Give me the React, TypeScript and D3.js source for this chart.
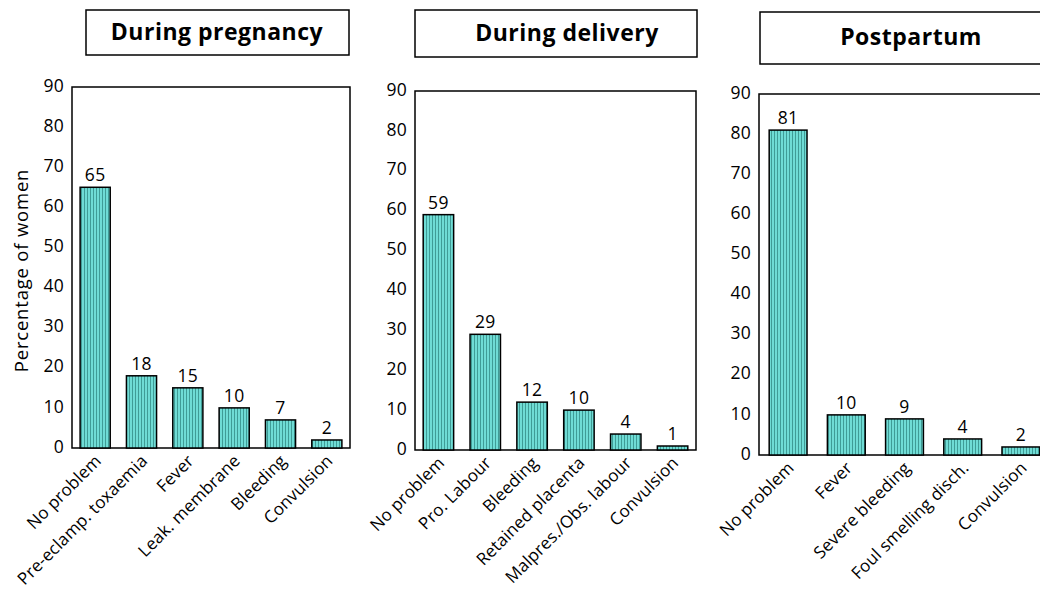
import React from "react";
import * as d3 from "d3";

const pregnancyCategories = ["No problem", "Pre-eclamp. toxaemia", "Fever", "Leak. membrane", "Bleeding", "Convulsion"];
const pregnancyValues = [65, 18, 15, 10, 7, 2];
const deliveryCategories = ["No problem", "Pro. Labour", "Bleeding", "Retained placenta", "Malpres./Obs. labour", "Convulsion"];
const deliveryValues = [59, 29, 12, 10, 4, 1];
const postpartumCategories = ["No problem", "Fever", "Severe bleeding", "Foul smelling disch.", "Convulsion"];
const postpartumValues = [81, 10, 9, 4, 2];
const yTicks = [0, 10, 20, 30, 40, 50, 60, 70, 80, 90];
const titles = ["During pregnancy", "During delivery", "Postpartum"];

const FONT = "'Open Sans', Lato, sans-serif";

type PanelCfg = {
  cats: string[];
  vals: number[];
  left: number;
  right: number;
  top: number;
  bottom: number;
  box: { x: number; y: number; w: number; h: number; tx: number };
  title: string;
};

const panels: PanelCfg[] = [
  { cats: pregnancyCategories, vals: pregnancyValues, left: 72, right: 350, top: 87, bottom: 448,
    box: { x: 86, y: 10, w: 263, h: 45, tx: 217 }, title: titles[0] },
  { cats: deliveryCategories, vals: deliveryValues, left: 415, right: 696, top: 91, bottom: 450,
    box: { x: 415, y: 10, w: 282, h: 47, tx: 567 }, title: titles[1] },
  { cats: postpartumCategories, vals: postpartumValues, left: 759, right: 1050, top: 94, bottom: 455,
    box: { x: 760, y: 12, w: 290, h: 52, tx: 911 }, title: titles[2] },
];

function Panel({ p, idx }: { p: PanelCfg; idx: number }) {
  const x = d3.scaleBand<string>().domain(p.cats).range([p.left, p.right]).paddingInner(0.35).paddingOuter(0.175);
  const y = d3.scaleLinear().domain([0, 90]).range([p.bottom, p.top]);
  return (
    <g>
      <rect x={p.box.x} y={p.box.y} width={p.box.w} height={p.box.h} fill="white" stroke="#000" strokeWidth={1.5} />
      <text x={p.box.tx} y={p.box.y + p.box.h / 2 + 1} textAnchor="middle" dominantBaseline="middle"
        fontFamily={FONT} fontWeight="bold" fontSize={23} letterSpacing={0.5}>{p.title}</text>
      <rect x={p.left} y={p.top} width={p.right - p.left} height={p.bottom - p.top} fill="none" stroke="#000" strokeWidth={1.5} />
      {yTicks.map((t) => (
        <text key={t} x={p.left - 8} y={y(t)} textAnchor="end" dominantBaseline="middle" fontFamily={FONT}
          fontSize={17.5} letterSpacing={0.3}>{t}</text>
      ))}
      {p.cats.map((c, i) => {
        const bx = x(c)!;
        const bw = x.bandwidth();
        const v = p.vals[i];
        const cx = bx + bw / 2;
        return (
          <g key={c}>
            <rect x={bx} y={y(v)} width={bw} height={p.bottom - y(v)} fill={`url(#stripe)`} stroke="#000" strokeWidth={1.5} />
            <text x={cx} y={y(v) - 6} textAnchor="middle" fontFamily={FONT} fontSize={17.5} letterSpacing={0.3}>{v}</text>
            <text x={cx + 7} y={p.bottom + 14} textAnchor="end" fontFamily={FONT} fontSize={17} letterSpacing={0.15}
              transform={`rotate(-45 ${cx + 7} ${p.bottom + 14})`}>{c}</text>
          </g>
        );
      })}
      {idx === 0 && (
        <text x={0} y={0} transform={`translate(23 ${(p.top + p.bottom) / 2 + 3}) rotate(-90)`} textAnchor="middle"
          dominantBaseline="middle" fontFamily={FONT} fontSize={18.5} letterSpacing={0.8}>Percentage of women</text>
      )}
    </g>
  );
}

export default function App() {
  return (
    <svg width={1040} height={597} style={{ position: "absolute", left: 0, top: 0, background: "white" }}>
      <defs>
        <pattern id="stripe" patternUnits="userSpaceOnUse" width={3} height={10}>
          <rect x={0} y={0} width={3} height={10} fill="#6fdcd5" />
          <rect x={0} y={0} width={1} height={10} fill="#3f9c96" />
        </pattern>
      </defs>
      <rect x={0} y={0} width={1040} height={597} fill="white" />
      {panels.map((p, i) => (
        <Panel key={i} p={p} idx={i} />
      ))}
    </svg>
  );
}
